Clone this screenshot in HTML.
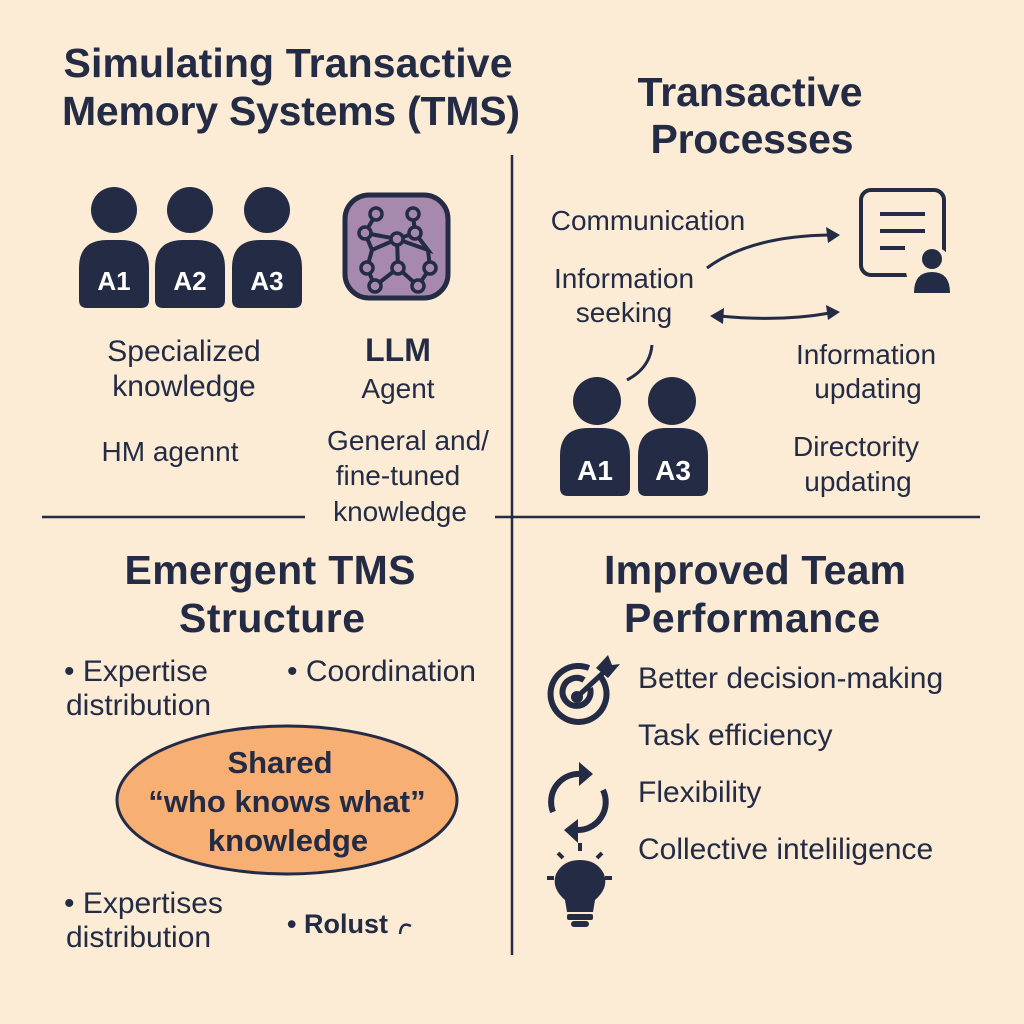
<!DOCTYPE html>
<html><head><meta charset="utf-8"><style>
html,body{margin:0;padding:0;background:#fcebd5;}
svg{display:block}
text{font-family:"Liberation Sans","DejaVu Sans",sans-serif;fill:#232b45;}
.t{font-weight:bold;font-size:41px;}
.b{font-size:28px;}
.c{font-size:30px;}
</style></head><body>
<svg width="1024" height="1024" viewBox="0 0 1024 1024">
<rect width="1024" height="1024" fill="#fcebd5"/>
<g stroke="#232b45" stroke-width="2.5">
<line x1="512" y1="155" x2="512" y2="955"/>
<line x1="42" y1="517" x2="305" y2="517"/>
<line x1="495" y1="517" x2="980" y2="517"/>
</g>
<text class="t" x="288" y="77" text-anchor="middle" textLength="449">Simulating Transactive</text>
<text class="t" x="291" y="125" text-anchor="middle" textLength="458">Memory Systems (TMS)</text>
<text class="t" x="750" y="106" text-anchor="middle" textLength="225">Transactive</text>
<text class="t" x="752" y="153" text-anchor="middle" textLength="203">Processes</text>
<text class="t" x="270" y="584" text-anchor="middle" textLength="291">Emergent TMS</text>
<text class="t" x="272" y="632" text-anchor="middle" textLength="186">Structure</text>
<text class="t" x="755" y="584" text-anchor="middle" textLength="302">Improved Team</text>
<text class="t" x="752" y="632" text-anchor="middle" textLength="256">Performance</text>

<defs>
<path id="body" d="M0,68 L0,28 Q0,0 28,0 L42,0 Q70,0 70,28 L70,60 Q70,68 62,68 L8,68 Q0,68 0,60 Z"/>
</defs>
<g fill="#232b45">
<circle cx="114" cy="210" r="23"/><circle cx="190" cy="210" r="23"/><circle cx="267" cy="210" r="23"/>
<use href="#body" x="79" y="240"/><use href="#body" x="155" y="240"/><use href="#body" x="232" y="240"/>
</g>
<g font-weight="bold" font-size="26" text-anchor="middle">
<text x="114" y="290" style="fill:#fff">A1</text><text x="190" y="290" style="fill:#fff">A2</text><text x="267" y="290" style="fill:#fff">A3</text>
</g>
<rect x="345" y="195" width="103" height="103" rx="24" fill="#a689ad" stroke="#232b45" stroke-width="5"/>
<g stroke="#232b45" stroke-width="4" fill="none">
<path d="M376,214 L365,233 L397,239 L415,233 L413,214 M365,233 L372,250 L397,239 L398,268 M415,233 L428,250 L397,239 M372,250 L367,268 L375,286 L398,268 L418,286 L430,268 L428,250"/>
</g>
<g fill="#a689ad" stroke="#232b45" stroke-width="3.5">
<circle cx="376" cy="214" r="6"/><circle cx="413" cy="214" r="6"/><circle cx="365" cy="233" r="6"/><circle cx="415" cy="233" r="6"/><circle cx="397" cy="239" r="6"/><circle cx="367" cy="268" r="6"/><circle cx="398" cy="268" r="6"/><circle cx="430" cy="268" r="6"/><circle cx="375" cy="286" r="6"/><circle cx="418" cy="286" r="6"/>
</g>
<g text-anchor="middle">
<text class="c" x="184" y="361">Specialized</text>
<text class="c" x="184" y="396">knowledge</text>
<text x="398" y="361" font-weight="bold" font-size="32">LLM</text>
<text class="b" x="398" y="398">Agent</text>
<text class="b" x="170" y="461">HM agennt</text>
<text class="b" x="408" y="450">General and/</text>
<text class="b" x="398" y="485">fine-tuned</text>
<text class="b" x="400" y="521">knowledge</text>
</g>
<g text-anchor="middle">
<text class="b" x="648" y="230">Communication</text>
<text class="b" x="624" y="288">Information</text>
<text class="b" x="624" y="322">seeking</text>
<text class="b" x="866" y="364">Information</text>
<text class="b" x="868" y="398">updating</text>
<text class="b" x="856" y="456">Directority</text>
<text class="b" x="858" y="491">updating</text>
</g>
<g stroke="#232b45" stroke-width="3" fill="none">
<path d="M707,268 Q750,236 830,235"/>
<path d="M720,316 Q780,322 830,313"/>
<path d="M652,345 Q650,368 627,380"/>
</g>
<g fill="#232b45">
<path d="M840,235 L826,227 L828,243 Z"/>
<path d="M840,312 L826,305 L828,320 Z"/>
<path d="M710,316 L724,308 L723,324 Z"/>
</g>
<rect x="861" y="190" width="83" height="85" rx="10" fill="none" stroke="#232b45" stroke-width="4"/>
<g stroke="#232b45" stroke-width="4"><line x1="880" y1="214" x2="925" y2="214"/><line x1="880" y1="231" x2="925" y2="231"/><line x1="880" y1="248" x2="905" y2="248"/></g>
<circle cx="930" cy="270" r="24" fill="#fcebd5"/>
<g fill="#232b45"><circle cx="932" cy="259" r="10"/><path d="M914,293 Q914,272 932,272 Q950,272 950,293 Z"/></g>
<g fill="#232b45">
<circle cx="597" cy="401" r="24"/><circle cx="672" cy="401" r="24"/>
<use href="#body" x="560" y="428"/><use href="#body" x="638" y="428"/>
</g>
<text x="595" y="480" text-anchor="middle" font-weight="bold" font-size="28" style="fill:#fff">A1</text>
<text x="673" y="480" text-anchor="middle" font-weight="bold" font-size="28" style="fill:#fff">A3</text>
<text class="c" x="64" y="681">• Expertise</text>
<text class="c" x="66" y="715">distribution</text>
<text class="c" x="287" y="681">• Coordination</text>
<ellipse cx="287" cy="800" rx="170" ry="74" fill="#f7af74" stroke="#232b45" stroke-width="3"/>
<g text-anchor="middle" font-weight="bold" font-size="31">
<text x="280" y="773">Shared</text>
<text x="287" y="812">“who knows what”</text>
<text x="288" y="851">knowledge</text>
</g>
<text class="c" x="64" y="913">• Expertises</text>
<text class="c" x="66" y="947">distribution</text>
<text x="287" y="933" font-size="27" font-weight="bold">• Rolust</text>
<path d="M400,934 Q401,921 411,926" stroke="#232b45" stroke-width="2.5" fill="none"/>
<text class="c" x="638" y="688">Better decision-making</text>
<text class="c" x="638" y="745">Task efficiency</text>
<text class="c" x="638" y="802">Flexibility</text>
<text class="c" x="638" y="859">Collective inteliligence</text>
<g stroke="#232b45" fill="none">
<path d="M600,676 A28,28 0 1 1 589,668" stroke-width="6"/>
<path d="M590,688 A14,14 0 1 1 584,680" stroke-width="6"/>
</g>
<g fill="#232b45">
<circle cx="577" cy="697" r="6"/>
<line x1="577" y1="697" x2="604" y2="672" stroke="#232b45" stroke-width="5"/>
<path d="M596,668 L608,655 L612,665 L620,664 L608,678 Z"/>
</g>
<g stroke="#232b45" stroke-width="6" fill="none">
<path d="M553,812 A28,28 0 0 1 582,774"/>
<path d="M603,790 A28,28 0 0 1 576,830"/>
</g>
<g fill="#232b45">
<path d="M593,774 L579,762 L579,786 Z"/>
<path d="M564,830 L578,819 L578,843 Z"/>
<path d="M565,900 Q551,888 556,874 Q563,860 580,860 Q597,860 604,874 Q609,888 595,900 L593,912 L567,912 Z"/>
<rect x="567" y="914" width="26" height="6" rx="2"/>
<rect x="571" y="921" width="18" height="6" rx="3"/>
</g>
<g stroke="#232b45" stroke-width="4">
<line x1="580" y1="843" x2="580" y2="851"/><line x1="558" y1="853" x2="563" y2="858"/><line x1="602" y1="853" x2="597" y2="858"/>
<line x1="547" y1="878" x2="554" y2="878"/><line x1="605" y1="878" x2="612" y2="878"/>
</g>
</svg>
</body></html>
